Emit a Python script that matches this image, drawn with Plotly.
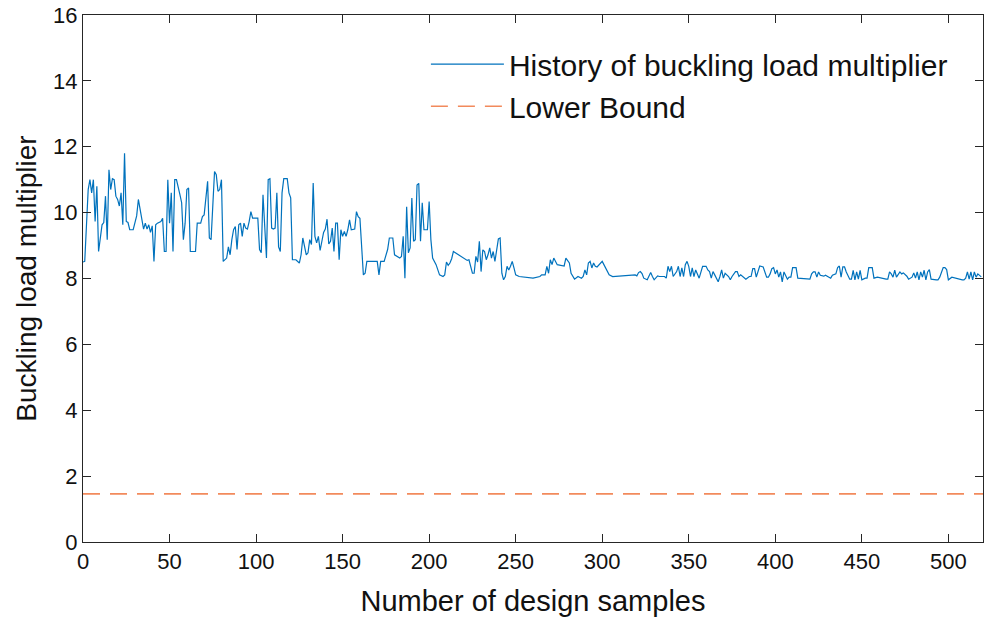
import plotly.graph_objects as go

# Sample index and buckling load multiplier
samples = [0, 1, 3, 4, 5, 6, 7, 8, 9, 11, 12, 13, 14, 15, 16, 17, 18, 19, 20, 21, 22, 23, 24, 25, 26, 27, 29, 30, 31, 32, 34, 35, 36, 37, 38, 39, 40, 41, 42, 43, 45, 46, 47, 48, 49, 50, 51, 52, 53, 54, 56, 57, 58, 59, 60, 61, 62, 65, 66, 68, 69, 70, 72, 73, 74, 76, 77, 78, 79, 80, 81, 83, 84, 85, 86, 87, 88, 89, 90, 91, 92, 93, 94, 95, 96, 97, 98, 101, 102, 103, 104, 105, 106, 107, 108, 109, 110, 111, 112, 113, 114, 115, 116, 118, 119, 120, 121, 123, 125, 126, 127, 129, 130, 131, 132, 133, 134, 135, 136, 137, 138, 139, 140, 141, 142, 143, 144, 145, 146, 147, 148, 149, 150, 151, 152, 153, 154, 155, 157, 158, 159, 160, 162, 163, 164, 170, 171, 172, 174, 176, 177, 179, 180, 181, 183, 184, 185, 186, 187, 188, 189, 190, 191, 192, 193, 194, 195, 196, 197, 199, 200, 201, 202, 204, 206, 208, 209, 210, 211, 212, 213, 214, 221, 222, 223, 224, 225, 226, 227, 228, 229, 230, 231, 232, 233, 234, 235, 236, 237, 238, 239, 240, 241, 242, 243, 244, 245, 246, 247, 248, 249, 250, 252, 260, 264, 265, 267, 268, 269, 270, 271, 272, 274, 277, 278, 279, 281, 282, 284, 286, 288, 289, 290, 291, 292, 293, 294, 295, 296, 297, 298, 299, 300, 304, 306, 319, 320, 321, 322, 323, 324, 326, 327, 328, 329, 330, 332, 333, 335, 336, 337, 338, 339, 340, 341, 343, 344, 345, 346, 347, 348, 349, 350, 351, 352, 353, 354, 355, 356, 358, 360, 361, 362, 363, 364, 365, 367, 368, 369, 370, 371, 373, 374, 375, 377, 378, 379, 380, 381, 383, 385, 386, 387, 388, 389, 391, 393, 395, 396, 397, 398, 399, 400, 401, 402, 403, 404, 405, 407, 408, 409, 410, 411, 412, 413, 419, 420, 421, 422, 423, 424, 425, 426, 428, 429, 431, 432, 433, 435, 436, 437, 438, 439, 440, 441, 443, 444, 445, 446, 447, 448, 449, 450, 452, 453, 454, 456, 457, 459, 464, 465, 466, 467, 468, 469, 470, 472, 473, 474, 476, 477, 479, 480, 481, 482, 483, 484, 485, 486, 487, 488, 489, 490, 493, 494, 495, 497, 498, 499, 500, 502, 508, 509, 510, 511, 512, 513, 514, 515, 516, 517, 519]

multiplier = [8.5, 8.52, 10.7, 11.0, 10.6, 11.0, 9.73, 10.8, 8.82, 9.63, 9.7, 10.5, 9.18, 11.3, 10.7, 11.03, 11.0, 10.5, 10.4, 10.2, 10.6, 9.63, 11.8, 9.73, 9.7, 9.48, 9.48, 9.68, 9.9, 10.4, 9.8, 9.5, 9.68, 9.5, 9.63, 9.4, 9.6, 8.52, 9.63, 9.68, 9.73, 9.83, 8.82, 8.82, 11.0, 9.68, 10.6, 8.82, 11.0, 11.0, 10.55, 10.3, 9.18, 9.68, 10.7, 10.75, 8.82, 8.82, 9.68, 9.68, 9.88, 9.93, 10.95, 9.23, 9.18, 11.25, 11.15, 10.65, 10.7, 11.0, 8.52, 8.62, 8.96, 8.72, 9.18, 9.48, 9.58, 8.88, 9.63, 9.68, 9.28, 9.68, 9.53, 9.5, 9.73, 10.03, 9.83, 9.83, 8.88, 8.78, 10.54, 9.38, 8.62, 11.0, 11.03, 9.53, 9.5, 9.53, 10.6, 8.96, 8.82, 10.6, 11.03, 11.03, 10.6, 10.45, 8.57, 8.57, 8.47, 8.72, 9.23, 8.72, 8.78, 9.18, 9.03, 10.9, 9.28, 9.08, 9.28, 8.85, 9.1, 9.4, 9.5, 9.8, 9.05, 9.13, 9.53, 8.82, 9.68, 9.68, 8.57, 9.48, 9.28, 9.43, 9.28, 9.48, 9.78, 9.48, 9.5, 10.03, 9.88, 9.83, 8.11, 8.16, 8.52, 8.52, 8.11, 8.52, 8.52, 8.88, 9.23, 9.23, 8.72, 8.68, 8.62, 8.67, 9.28, 8.01, 10.18, 8.78, 8.93, 10.44, 9.13, 9.18, 10.84, 10.89, 9.13, 10.3, 9.48, 9.48, 10.34, 9.18, 8.62, 8.42, 8.11, 8.06, 8.11, 8.5, 8.4, 8.47, 8.6, 8.82, 8.57, 8.55, 8.57, 8.37, 8.16, 8.16, 8.67, 8.5, 9.13, 8.21, 8.87, 8.82, 8.57, 8.72, 8.93, 8.62, 8.82, 8.52, 8.82, 9.2, 9.23, 8.16, 7.96, 8.06, 8.37, 8.26, 8.37, 8.52, 8.32, 8.11, 8.06, 8.01, 8.06, 8.11, 8.11, 8.37, 8.16, 8.57, 8.42, 8.62, 8.42, 8.39, 8.38, 8.62, 8.47, 8.16, 7.98, 8.06, 8.01, 8.06, 8.26, 8.11, 8.47, 8.52, 8.32, 8.47, 8.37, 8.35, 8.4, 8.47, 8.52, 8.11, 8.06, 8.11, 8.08, 8.18, 8.21, 8.15, 8.01, 7.96, 8.06, 8.18, 8.06, 7.96, 8.08, 8.06, 8.06, 8.06, 8.01, 8.37, 8.21, 8.37, 8.06, 8.21, 8.37, 8.06, 8.32, 8.06, 8.42, 8.52, 8.37, 8.06, 8.32, 8.06, 8.26, 8.11, 8.01, 8.37, 8.37, 8.26, 8.21, 8.01, 8.21, 8.11, 7.9, 8.06, 8.26, 8.01, 8.16, 8.06, 7.96, 8.06, 8.21, 8.21, 8.06, 8.11, 8.06, 7.98, 8.06, 8.06, 8.3, 8.3, 8.04, 8.38, 8.35, 8.04, 8.04, 8.14, 8.3, 8.33, 8.14, 8.26, 8.04, 8.2, 7.9, 8.2, 7.98, 8.04, 8.04, 8.33, 8.33, 8.33, 8.01, 7.98, 7.98, 8.14, 8.2, 8.2, 8.04, 8.2, 8.1, 8.07, 8.1, 8.04, 8.01, 8.1, 8.14, 8.33, 8.38, 8.04, 8.35, 8.35, 8.2, 7.98, 7.98, 8.25, 7.96, 8.2, 7.98, 8.25, 7.96, 8.01, 8.01, 8.33, 8.33, 8.01, 8.04, 7.98, 7.98, 8.2, 8.14, 8.04, 8.25, 8.04, 8.2, 8.14, 8.17, 8.07, 7.98, 8.04, 8.17, 8.01, 8.2, 7.96, 8.2, 8.04, 8.25, 7.96, 8.2, 8.27, 7.98, 7.96, 7.96, 8.04, 8.33, 8.33, 8.27, 7.96, 8.04, 7.96, 7.96, 8.01, 8.2, 7.98, 8.2, 7.96, 8.2, 8.04, 8.14, 8.05, 8.05]

bound_x = [0, 520]
bound_y = [1.46, 1.46]

x_ticks = [0, 50, 100, 150, 200, 250, 300, 350, 400, 450, 500]
y_ticks = [0, 2, 4, 6, 8, 10, 12, 14, 16]

FONT = "Liberation Sans, Arial, Helvetica, sans-serif"
AX = "#262626"
TXT = "#111111"

fig = go.Figure()
fig.add_trace(go.Scatter(
    x=samples, y=multiplier, mode="lines",
    name="History of buckling load multiplier",
    line=dict(color="#0072BD", width=1.2),
))
fig.add_trace(go.Scatter(
    x=bound_x, y=bound_y, mode="lines",
    name="Lower Bound",
    line=dict(color="#F28A5C", width=1.6, dash="17px,10px"),
))

axis_common = dict(
    showgrid=False, zeroline=False, showline=True, linecolor=AX, linewidth=1,
    mirror="ticks", ticks="inside", ticklen=8, tickcolor=AX, tickwidth=1,
    tickfont=dict(family=FONT, size=22, color=TXT),
)

fig.update_layout(
    width=986, height=620,
    margin=dict(l=83, r=3, t=15, b=78),
    paper_bgcolor="white", plot_bgcolor="white",
    font=dict(family=FONT, color=TXT),
    xaxis=dict(range=[0, 520], tickvals=x_ticks,
               title=dict(text="Number of design samples",
                          font=dict(family=FONT, size=29, color=TXT),
                          standoff=17),
               **axis_common),
    yaxis=dict(range=[0, 16], tickvals=y_ticks,
               title=dict(text="Buckling load multiplier",
                          font=dict(family=FONT, size=28, color=TXT),
                          standoff=8),
               **axis_common),
    legend=dict(x=0.381, y=0.956, xanchor="left", yanchor="top",
                bgcolor="rgba(0,0,0,0)", borderwidth=0,
                font=dict(family=FONT, size=30, color=TXT),
                itemwidth=73, tracegroupgap=0),
    showlegend=True,
)

fig.write_html("out.html")
